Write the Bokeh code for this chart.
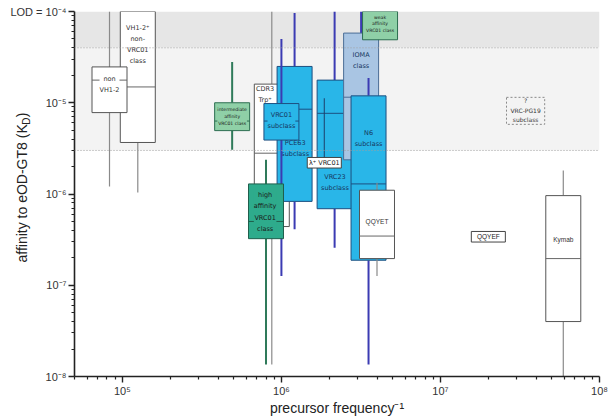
import math
from bokeh.plotting import figure
from bokeh.models import Range1d, FixedTicker, Label, Span
from bokeh.core.properties import value
from bokeh.embed import file_html
from bokeh.resources import INLINE

# ---------------- data ----------------
box_names = ["VH1-2+ non-VRC01 class", "non VH1-2", "intermediate affinity VRC01 class",
             "CDR3 Trp+", "PCE63 subclass", "VRC01 subclass", "high affinity VRC01 class",
             "VRC23 subclass", "IOMA class", "N6 subclass", "QQYET", "Kymab"]
box_freq   = [1.25e5, 8.3e4, 4.9e5, 8.7e5, 1.21e6, 1.0e6, 8.0e5, 2.16e6, 3.17e6, 3.53e6, 3.99e6, 5.92e7]
box_whi    = [1.0e-4, 1.0e-4, 2.8e-5, 1.0e-4, 9.6e-5, 5.0e-5, 2.37e-6, 1.0e-4, 1.0e-4, 1.87e-5, 1.33e-6, 1.81e-6]
box_q3     = [1.0e-4, 2.47e-5, 1.0e-5, 1.6e-5, 2.5e-5, 9.8e-6, 1.29e-6, 1.77e-5, 5.8e-5, 1.19e-5, 1.1e-6, 9.6e-7]
box_median = [1.49e-5, 1.77e-5, 6.3e-6, 2.8e-6, 8.5e-6, 6.3e-6, 5.0e-7, 7.66e-6, 1.15e-5, 1.29e-6, 3.46e-7, 1.96e-7]
box_q1     = [3.67e-6, 7.8e-6, 4.95e-6, 4.4e-7, 8.3e-7, 3.9e-6, 3.24e-7, 6.9e-7, 2.37e-6, 1.88e-7, 1.96e-7, 4.0e-8]
box_wlo    = [1.04e-6, 1.21e-6, 3.05e-6, 1.35e-8, 4.1e-7, 1.26e-7, 1.35e-8, 2.58e-7, 1.0e-6, 1.35e-8, 1.26e-7, 1.0e-8]

box_text = ["VH1-2\u207a\nnon-\nVRC01\nclass", "non\nVH1-2", "intermediate\naffinity\nVRC01 class",
            "CDR3\nTrp\u207a", "PCE63\nsubclass", "VRC01\nsubclass", "high\naffinity\nVRC01\nclass",
            "VRC23\nsubclass", "IOMA\nclass", "N6\nsubclass", "QQYET", "Kymab"]
text_freq = [1.25e5, 8.3e4, 4.9e5, 7.9e5, 1.22e6, 1.0e6, 7.9e5, 2.17e6, 3.17e6, 3.53e6, 3.99e6, 5.92e7]
text_kd   = [4.37e-5, 1.58e-5, 7.08e-6, 1.24e-5, 3.17e-6, 6.41e-6, 6.35e-7, 1.35e-6, 2.92e-5, 4.07e-6, 5.03e-7, 3.18e-7]

single_names = ["\u03bb\u207a VRC01", "QQYEF"]
single_freq  = [1.86e6, 2.0e7]
single_kd    = [2.2e-6, 3.4e-7]
lambda_kd_hi = 1.12e-5

range_names = ["weak\naffinity\nVRC01 class", "?\nVRC-PG19\nsubclass"]
range_freq  = [4.17e6, 3.43e7]
range_hi    = [1.0e-4, 1.146e-5]
range_lo    = [4.9e-5, 5.8e-6]
range_text_kd = [7.31e-5, 8.26e-6]

lod = 1e-4
band_upper = 4e-5
band_lower = 3e-6

x_major = [1e5, 1e6, 1e7, 1e8]
x_labels = ["10\u2075", "10\u2076", "10\u2077", "10\u2078"]
y_major = [1e-8, 1e-7, 1e-6, 1e-5, 1e-4]
y_labels = ["10\u207b\u2078", "10\u207b\u2077", "10\u207b\u2076", "10\u207b\u2075", "LOD = 10\u207b\u2074"]
x_min, x_max = 5e4, 1e8
y_min, y_max = 1e-8, 1e-4
x_title = "precursor frequency\u207b\u00b9"
y_title = "affinity to eOD-GT8 (K\u2002)"
y_title_sub = "D"

# ---------------- styles ----------------
STY = {
    "white": dict(fill="white", line="#555555", wh="#8a8a8a", ww=1.2, med="#666666", txt="#333333"),
    "blue":  dict(fill="#29b6e8", line="#1d4f80", wh="#3b3bb3", ww=2.0, med="#1d4f80", txt="#17375e"),
    "ioma":  dict(fill="#a9c5e3", line="#4b6d96", wh="#3b3bb3", ww=2.0, med="#4b6d96", txt="#17375e"),
    "green": dict(fill="#8fd0a7", line="#2c6e50", wh="#2f7a5a", ww=2.0, med="#2c6e50", txt="#1a1a1a"),
    "teal":  dict(fill="#2eab8c", line="#1f5f4c", wh="#2f7a5a", ww=2.0, med="#1f5f4c", txt="#1a1a1a"),
}
box_style = ["white", "white", "green", "white", "blue", "blue", "teal", "blue", "ioma", "blue", "white", "white"]
text_bg = [False, True, True, False, False, True, True, False, False, False, False, False]
text_size = ["6.5px", "6.5px", "4.6px", "6.5px", "6.5px", "6.5px", "6.5px", "6.5px", "6.5px", "6.5px", "6.5px", "6.5px"]
text_font = ["DejaVu Sans"] * 10 + ["Liberation Sans", "Liberation Sans"]
HW = 0.11
LH = 0.058
TITLE_PX = 14

W, H = 615, 418
FL, FR, FT, FB = 74, 600, 11, 377   # frame edges in page pixels
p = figure(width=W, height=H, x_axis_type="log", y_axis_type="log",
           x_range=Range1d(x_min, x_max), y_range=Range1d(y_min, y_max),
           output_backend="svg", toolbar_location=None,
           min_border_left=FL, min_border_right=W - FR, min_border_top=FT, min_border_bottom=H - FB)
p.xgrid.visible = False
p.ygrid.visible = False
p.outline_line_color = None
p.background_fill_color = "white"

p.quad(left=x_min, right=x_max, top=lod, bottom=band_upper, fill_color="#e6e6e6", line_color=None)
p.quad(left=x_min, right=x_max, top=band_upper, bottom=band_lower, fill_color="#f3f3f3", line_color=None)
for lvl in (band_upper, band_lower):
    p.add_layout(Span(location=lvl, dimension="width", line_color="#a0a0a0", line_dash="1 2", line_width=1))


def draw_text(x, y, txt, size, color, font="DejaVu Sans", bg=None):
    kw = {}
    if bg is not None:
        kw["background_fill_color"] = bg
    p.text(x=[x], y=[y], text=[txt], text_font=value(font), text_font_size=size,
           text_color=color, text_align="center", text_baseline="middle",
           text_line_height=1.38, **kw)


for i, name in enumerate(box_names):
    st = STY[box_style[i]]
    x = box_freq[i]
    l, r = x * 10 ** -HW, x * 10 ** HW
    p.segment(x0=[x], y0=[box_q3[i]], x1=[x], y1=[box_whi[i]], line_color=st["wh"], line_width=st["ww"])
    p.segment(x0=[x], y0=[box_q1[i]], x1=[x], y1=[box_wlo[i]], line_color=st["wh"], line_width=st["ww"])
    p.quad(left=[l], right=[r], top=[box_q3[i]], bottom=[box_q1[i]],
           fill_color=st["fill"], line_color=st["line"], line_width=1)
    p.segment(x0=[l], y0=[box_median[i]], x1=[r], y1=[box_median[i]], line_color=st["med"], line_width=1)
    draw_text(text_freq[i], text_kd[i], box_text[i], text_size[i], st["txt"], text_font[i],
              st["fill"] if text_bg[i] else None)
    if name == "VRC23 subclass":
        p.segment(x0=[single_freq[0]], y0=[single_kd[0]], x1=[single_freq[0]], y1=[lambda_kd_hi],
                  line_color="#1d3f6a", line_width=1)

x = range_freq[0]
p.quad(left=[x * 10 ** -HW], right=[x * 10 ** HW], top=[range_hi[0]], bottom=[range_lo[0]],
       fill_color=STY["green"]["fill"], line_color=STY["green"]["line"], line_width=1)
draw_text(x, range_text_kd[0], range_names[0], "4.6px", "#1a1a1a")

for i, name in enumerate(single_names):
    x, y = single_freq[i], single_kd[i]
    p.quad(left=[x * 10 ** -0.107], right=[x * 10 ** 0.107], top=[y * 10 ** LH], bottom=[y * 10 ** -LH],
           fill_color="white", line_color="#444444", line_width=1)
    draw_text(x, y, name, "6.5px", "#222222", "DejaVu Sans" if i == 0 else "Liberation Sans")

x = range_freq[1]
p.quad(left=[x * 10 ** -0.12], right=[x * 10 ** 0.12], top=[range_hi[1]], bottom=[range_lo[1]],
       fill_color=None, line_color="#8a8a8a", line_width=1, line_dash="2 2")
draw_text(x, range_text_kd[1], range_names[1], "6px", "#333333")

x_minor = [m * 10 ** e for e in range(4, 8) for m in range(2, 10) if x_min <= m * 10 ** e <= x_max]
y_minor = [m * 10 ** e for e in range(-8, -4) for m in range(2, 10)]
p.xaxis.ticker = FixedTicker(ticks=x_major, minor_ticks=x_minor)
p.yaxis.ticker = FixedTicker(ticks=y_major, minor_ticks=y_minor)
p.xaxis.major_label_overrides = dict(zip(x_major, x_labels))
p.yaxis.major_label_overrides = dict(zip(y_major, y_labels))
for ax in (p.xaxis[0], p.yaxis[0]):
    ax.axis_line_color = "#222222"
    ax.axis_line_width = 1.6
    ax.major_tick_line_color = "#222222"
    ax.minor_tick_line_color = "#222222"
    ax.major_tick_line_width = 1.4
    ax.minor_tick_line_width = 1.2
    ax.major_tick_out = 6
    ax.major_tick_in = 0
    ax.minor_tick_out = 3
    ax.minor_tick_in = 0
    ax.major_label_text_font = "Liberation Sans"
    ax.major_label_text_font_size = "11px"
    ax.major_label_text_color = "#333333"
p.yaxis.axis_label = None
p.yaxis.major_label_standoff = 2
p.xaxis.major_label_standoff = 2
p.xaxis.axis_label = x_title
p.xaxis.axis_label_standoff = 0
p.xaxis.axis_label_text_font = "Liberation Sans"
p.xaxis.axis_label_text_font_size = f"{TITLE_PX}px"
p.xaxis.axis_label_text_font_style = "normal"
p.xaxis.axis_label_text_color = "#222222"

# y title: a Label in the right side panel (side panels are not clipped), moved to the left edge
y_start = 263.0                      # page y of the first letter
p.add_layout(Label(x=22 - FR, y=FB - y_start, x_units="screen", y_units="screen", text=y_title,
                   angle=math.pi / 2, text_align="left", text_baseline="middle",
                   text_font="Liberation Sans", text_font_size=f"{TITLE_PX}px", text_color="#222222"), "right")
k_end = y_start - 9.892 * TITLE_PX   # where "K" ends (Arial metrics)
p.add_layout(Label(x=26 - FL, y=FT - k_end + 0.3, x_units="screen", y_units="screen", text=y_title_sub,
                   angle=math.pi / 2, text_align="left", text_baseline="middle",
                   text_font="Liberation Sans", text_font_size="10px", text_color="#222222"), "above")

open("out.html", "w").write(file_html(p, INLINE))
